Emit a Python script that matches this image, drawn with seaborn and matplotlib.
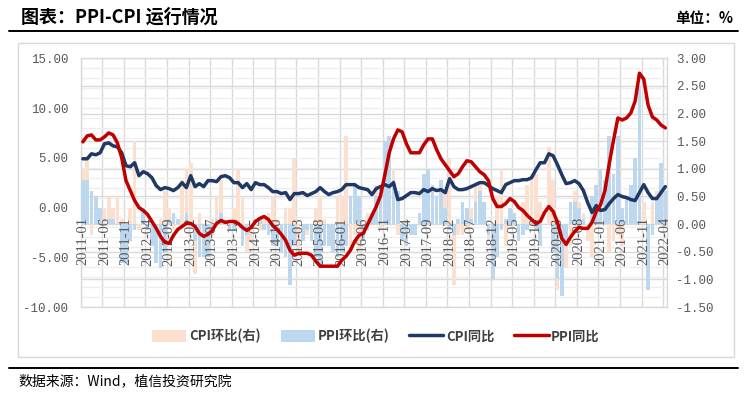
import numpy as np
import pandas as pd
import matplotlib
matplotlib.use("Agg")
import matplotlib.pyplot as plt
import seaborn as sns
from matplotlib.ticker import FixedLocator, FormatStrFormatter
from matplotlib.lines import Line2D
from matplotlib.patches import Patch, Rectangle

# ---------------- data ----------------
months = list(pd.period_range("2011-01", "2022-04", freq="M").strftime("%Y-%m"))

cpi_yoy = [4.9, 4.9, 5.4, 5.3, 5.5, 6.4, 6.5, 6.2, 6.1, 5.5, 4.2, 4.1,
           4.5, 3.2, 3.6, 3.4, 3.0, 2.2, 1.8, 2.0, 1.9, 1.7, 2.0, 2.5,
           2.0, 3.2, 2.1, 2.4, 2.1, 2.7, 2.7, 2.6, 3.1, 3.2, 3.0, 2.5,
           2.5, 2.0, 2.4, 1.8, 2.5, 2.3, 2.3, 2.0, 1.6, 1.6, 1.4, 1.5,
           0.8, 1.4, 1.4, 1.5, 1.2, 1.4, 1.6, 2.0, 1.6, 1.3, 1.5, 1.6,
           1.8, 2.3, 2.3, 2.3, 2.0, 1.9, 1.8, 1.3, 1.9, 2.1, 2.3, 2.1,
           2.5, 0.8, 0.9, 1.2, 1.5, 1.5, 1.4, 1.8, 1.6, 1.9, 1.7, 1.8,
           1.5, 2.9, 2.1, 1.8, 1.8, 1.9, 2.1, 2.3, 2.5, 2.5, 2.2, 1.9,
           1.7, 1.5, 2.3, 2.5, 2.7, 2.7, 2.8, 2.8, 3.0, 3.8, 4.5, 4.5,
           5.4, 5.2, 4.3, 3.3, 2.4, 2.5, 2.7, 2.4, 1.7, 0.5, -0.5, 0.2,
           -0.3, -0.2, 0.4, 0.9, 1.3, 1.1, 1.0, 0.8, 0.7, 1.5, 2.3, 1.5,
           0.9, 0.9, 1.5, 2.1]

ppi_yoy = [6.6, 7.2, 7.3, 6.8, 6.8, 7.1, 7.5, 7.3, 6.5, 5.0, 2.7, 1.7,
           0.7, 0.0, -0.3, -0.7, -1.4, -2.1, -2.9, -3.5, -3.6, -2.8, -2.2, -1.9,
           -1.6, -1.6, -1.9, -2.6, -2.9, -2.7, -2.3, -1.6, -1.3, -1.5, -1.4, -1.4,
           -1.6, -2.0, -2.3, -2.0, -1.4, -1.1, -0.9, -1.2, -1.8, -2.2, -2.7, -3.3,
           -4.3, -4.8, -4.6, -4.6, -4.6, -4.8, -5.4, -5.9, -5.9, -5.9, -5.9, -5.9,
           -5.3, -4.9, -4.3, -3.4, -2.8, -2.6, -1.7, -0.8, 0.1, 1.2, 3.3, 5.5,
           6.9, 7.8, 7.6, 6.4, 5.5, 5.5, 5.5, 6.3, 6.9, 6.9, 5.8, 4.9,
           4.3, 3.7, 3.1, 3.4, 4.1, 4.7, 4.6, 4.1, 3.6, 3.3, 2.7, 0.9,
           0.1, 0.1, 0.4, 0.9, 0.6, 0.0, -0.3, -0.8, -1.2, -1.6, -1.4, -0.5,
           0.1, -0.4, -1.5, -3.1, -3.7, -3.0, -2.4, -2.0, -2.1, -2.1, -1.5, -0.4,
           0.3, 1.7, 4.4, 6.8, 9.0, 8.8, 9.0, 9.5, 10.7, 13.5, 12.9, 10.3,
           9.1, 8.8, 8.3, 8.0]

cpi_mom = [1.0, 1.2, -0.2, 0.1, 0.1, 0.3, 0.5, 0.3, 0.5, 0.1, -0.2, 0.3,
           1.5, -0.1, 0.2, -0.1, -0.3, -0.6, 0.1, 0.6, 0.3, -0.1, 0.1, 0.8,
           1.0, 1.1, -0.9, 0.2, -0.6, 0.0, 0.1, 0.5, 0.8, 0.1, -0.1, 0.3,
           1.0, 0.5, -0.5, -0.3, 0.1, -0.1, 0.1, 0.2, 0.5, 0.1, -0.2, 0.3,
           0.3, 1.2, -0.5, -0.2, -0.2, 0.0, 0.3, 0.5, 0.1, -0.3, 0.0, 0.5,
           0.5, 1.6, -0.4, -0.2, -0.5, -0.1, 0.2, 0.1, 0.7, -0.1, 0.1, 0.2,
           1.0, -0.2, -0.3, 0.1, -0.1, -0.2, 0.1, 0.4, 0.5, 0.1, 0.0, 0.3,
           0.6, 1.2, -1.1, -0.2, -0.2, -0.1, 0.3, 0.7, 0.7, 0.2, -0.3, 0.0,
           0.5, 1.0, -0.4, 0.1, 0.0, -0.1, 0.4, 0.7, 0.9, 0.9, 0.4, 0.0,
           1.4, 0.8, -1.2, -0.9, -0.8, -0.4, 0.6, 0.4, 0.2, -0.3, -0.6, 0.7,
           1.0, 0.6, -0.5, -0.3, -0.2, -0.4, 0.3, 0.1, 0.0, 0.7, 0.4, -0.3,
           0.4, 0.6, 0.0, 0.4]

ppi_mom = [0.8, 0.8, 0.6, 0.5, 0.3, 0.0, 0.1, 0.1, 0.0, -0.7, -0.7, -0.3,
           -0.1, 0.0, 0.3, -0.1, -0.4, -0.7, -0.8, -0.5, 0.1, 0.2, 0.1, 0.0,
           0.2, 0.0, -0.3, -0.6, -0.6, -0.6, -0.2, 0.1, 0.2, 0.0, -0.1, -0.1,
           0.0, -0.4, -0.2, 0.0, 0.0, 0.1, -0.1, -0.2, -0.4, -0.4, -0.5, -0.6,
           -1.1, -0.4, 0.0, -0.3, -0.1, -0.3, -0.6, -0.8, -0.4, -0.4, -0.5, -0.6,
           -0.5, -0.4, 0.5, 0.7, 0.5, -0.3, -0.1, 0.2, 0.5, 0.7, 1.5, 1.6,
           0.8, 0.6, -0.3, -0.4, -0.2, -0.2, 0.2, 0.9, 1.0, 0.7, 0.5, 0.8,
           0.3, -0.1, -0.2, 0.1, 0.4, 0.3, 0.1, 0.4, 0.6, 0.4, -0.2, -1.0,
           -0.6, -0.1, 0.1, 0.3, 0.2, -0.3, -0.2, -0.1, 0.1, -0.1, -0.4, 0.0,
           0.0, -0.5, -1.0, -1.3, -0.4, 0.4, 0.4, 0.3, 0.1, 0.0, 0.5, 0.7,
           1.0, 0.8, 1.6, 0.9, 1.6, 0.3, 0.5, 0.7, 1.2, 2.5, 0.0, -1.2,
           -0.2, 0.5, 1.1, 0.6]

left_ticks = [-10, -5, 0, 5, 10, 15]
right_ticks = [-1.5, -1.0, -0.5, 0.0, 0.5, 1.0, 1.5, 2.0, 2.5, 3.0]

# ---------------- style ----------------
sns.set_style("white")
plt.rcParams["font.family"] = ["Noto Sans CJK SC", "DejaVu Sans"]
plt.rcParams["axes.unicode_minus"] = False

C_CPI_MOM = "#FBE0CF"
C_PPI_MOM = "#BDD7EE"
C_CPI = "#1F3864"
C_PPI = "#C00000"
GRID = "#D9D9D9"
GRID_MINOR = "#EEEEEE"
TICK = "#595959"

W, H = 745, 397
fig = plt.figure(figsize=(W / 100, H / 100), dpi=100)
fig.patch.set_facecolor("white")

ax = fig.add_axes([80.7 / W, 1 - 307 / H, (667.5 - 80.7) / W, (307 - 58.3) / H])
n = len(months)
df = pd.DataFrame({"month": months, "cpi_mom": cpi_mom, "ppi_mom": ppi_mom,
                   "cpi_yoy": cpi_yoy, "ppi_yoy": ppi_yoy, "idx": np.arange(n)})

# bars on right scale (bottom axes)
sns.barplot(data=df, x="month", y="cpi_mom", color=C_CPI_MOM, saturation=1,
            width=0.85, ax=ax, zorder=2, edgecolor="none", linewidth=0)
sns.barplot(data=df, x="month", y="ppi_mom", color=C_PPI_MOM, saturation=1,
            width=0.85, ax=ax, zorder=3, edgecolor="none", linewidth=0)
ax.set_ylim(-1.5, 3.0)
ax.set_xlim(-0.5, n - 0.5)

# lines on left scale (top axes)
ax2 = ax.twinx()
sns.lineplot(data=df, x="idx", y="cpi_yoy", color=C_CPI, lw=2.5, ax=ax2,
             solid_joinstyle="round", solid_capstyle="round")
sns.lineplot(data=df, x="idx", y="ppi_yoy", color=C_PPI, lw=2.5, ax=ax2,
             solid_joinstyle="round", solid_capstyle="round")
ax2.set_ylim(-10, 15)
ax2.set_xlim(-0.5, n - 0.5)
for a in (ax, ax2):
    a.set_xlabel("")
    a.set_ylabel("")

# y axes: bars -> right, lines -> left
ax.yaxis.tick_right()
ax.yaxis.set_major_locator(FixedLocator(right_ticks))
ax.yaxis.set_minor_locator(FixedLocator(list(np.linspace(-1.5, 3.0, 26))))
ax.yaxis.set_major_formatter(FormatStrFormatter("%.2f"))
ax2.yaxis.tick_left()
ax2.yaxis.set_major_locator(FixedLocator(left_ticks))
ax2.yaxis.set_major_formatter(FormatStrFormatter("%.2f"))

# x ticks / grid (shared locators)
ax.set_xticks(list(range(0, n, 5)))
ax.set_xticklabels(months[::5])
ax.xaxis.set_minor_locator(FixedLocator([i - 0.5 for i in range(0, n, 5)]))
ax.grid(False)
ax.grid(axis="x", which="minor", color=GRID, lw=1.0)
ax.grid(axis="y", which="major", color=GRID, lw=1.0)
ax.grid(axis="y", which="minor", color=GRID_MINOR, lw=0.9)
ax.set_axisbelow(True)
ax.tick_params(axis="x", which="both", length=0, labelbottom=False)

# x tick labels drawn by top axes, above bars, at left-scale zero
ax2.xaxis.set_visible(True)
ax2.grid(False)
ax2.spines["bottom"].set_position(("data", 0))
ax2.tick_params(axis="x", which="both", length=0, pad=7, labelrotation=90,
                labelsize=10.5, colors=TICK, labelbottom=True,
                labelfontfamily="Liberation Serif")
for s in ["left", "right", "top", "bottom"]:
    ax.spines[s].set_color(GRID)
    ax.spines[s].set_linewidth(1.0)
    ax2.spines[s].set_visible(False)

ax.tick_params(axis="y", which="both", length=0, pad=6, labelsize=9, colors=TICK,
               labelfontfamily="Liberation Mono", labelright=True, labelleft=False)
ax2.tick_params(axis="y", which="both", length=0, pad=9, labelsize=9, colors=TICK,
                labelfontfamily="Liberation Mono", labelleft=True, labelright=False)

# legend
handles = [Patch(facecolor=C_CPI_MOM, edgecolor="none"),
           Patch(facecolor=C_PPI_MOM, edgecolor="none"),
           Line2D([], [], color=C_CPI, lw=2.5),
           Line2D([], [], color=C_PPI, lw=2.5)]
labels = ["CPI环比(右)", "PPI环比(右)", "CPI同比", "PPI同比"]
leg = fig.legend(handles, labels, loc="center", ncol=4, frameon=False,
                 bbox_to_anchor=(376 / W, 1 - 336 / H), fontsize=9.5,
                 handlelength=2.6, handleheight=1.0, handletextpad=0.2,
                 columnspacing=1.5)
for t in leg.get_texts():
    t.set_color("#404040")
    t.set_fontweight("bold")

# frame, title, footer
fig.add_artist(Rectangle((18 / W, 1 - 357 / H), (734 - 18) / W, (357 - 42.7) / H,
                         transform=fig.transFigure, fill=False, ec=GRID, lw=1.0))
fig.add_artist(Line2D([9 / W, 738 / W], [1 - 30.5 / H, 1 - 30.5 / H],
                      transform=fig.transFigure, color="black", lw=1.4))
fig.add_artist(Line2D([9 / W, 738 / W], [1 - 368.3 / H, 1 - 368.3 / H],
                      transform=fig.transFigure, color="black", lw=1.4))
fig.text(21 / W, 1 - 17.5 / H, "图表：PPI-CPI 运行情况", ha="left", va="center",
         fontsize=13, fontweight="bold", color="black")
fig.text(733 / W, 1 - 17.5 / H, "单位：%", ha="right", va="center",
         fontsize=10.5, fontweight="bold", color="black")
fig.text(18 / W, 1 - 381 / H, "数据来源：Wind，植信投资研究院", ha="left", va="center",
         fontsize=10, color="black")

fig.savefig("out.png", dpi=100, facecolor="white")
